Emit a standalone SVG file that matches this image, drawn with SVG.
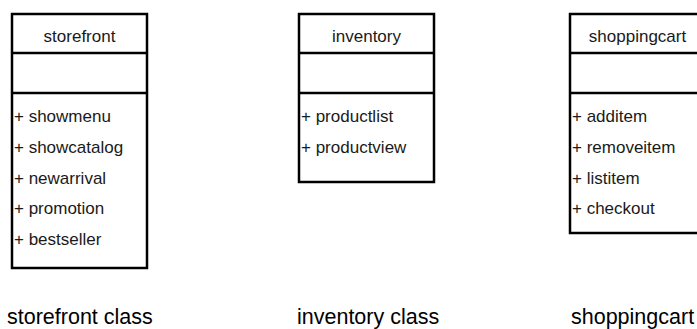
<svg xmlns="http://www.w3.org/2000/svg" width="697" height="329" viewBox="0 0 697 329">
<style>
.box{fill:#fff;stroke:#000;stroke-width:2.5}
.ln{stroke:#000;stroke-width:2.5}
.t{font-family:"Liberation Sans",Arial,sans-serif;font-size:17px;fill:#1a1a1a}
.c{text-anchor:middle}
.lbl{font-family:"Liberation Sans",Arial,sans-serif;font-size:21.5px;fill:#000}
</style>
<rect width="697" height="329" fill="#fff"/>
<g id="storefront">
<rect class="box" x="12" y="14" width="135" height="254"/>
<line class="ln" x1="12" y1="53" x2="147" y2="53"/>
<line class="ln" x1="12" y1="93" x2="147" y2="93"/>
<text class="t c" x="79.5" y="42">storefront</text>
<text class="t" x="14" y="122">+ showmenu</text>
<text class="t" x="14" y="153">+ showcatalog</text>
<text class="t" x="14" y="184">+ newarrival</text>
<text class="t" x="14" y="214">+ promotion</text>
<text class="t" x="14" y="245">+ bestseller</text>
</g>
<g id="inventory">
<rect class="box" x="299" y="14" width="135" height="168"/>
<line class="ln" x1="299" y1="53" x2="434" y2="53"/>
<line class="ln" x1="299" y1="93" x2="434" y2="93"/>
<text class="t c" x="366.5" y="42">inventory</text>
<text class="t" x="301" y="122">+ productlist</text>
<text class="t" x="301" y="153">+ productview</text>
</g>
<g id="shoppingcart">
<rect class="box" x="570" y="14" width="135" height="219"/>
<line class="ln" x1="570" y1="53" x2="705" y2="53"/>
<line class="ln" x1="570" y1="93" x2="705" y2="93"/>
<text class="t c" x="637.5" y="42">shoppingcart</text>
<text class="t" x="572" y="122">+ additem</text>
<text class="t" x="572" y="153">+ removeitem</text>
<text class="t" x="572" y="184">+ listitem</text>
<text class="t" x="572" y="214">+ checkout</text>
</g>
<g id="connectors"></g>
<g id="labels">
<text class="lbl" x="7" y="324">storefront class</text>
<text class="lbl" x="297" y="324">inventory class</text>
<text class="lbl" x="571" y="324">shoppingcart class</text>
</g>
</svg>
